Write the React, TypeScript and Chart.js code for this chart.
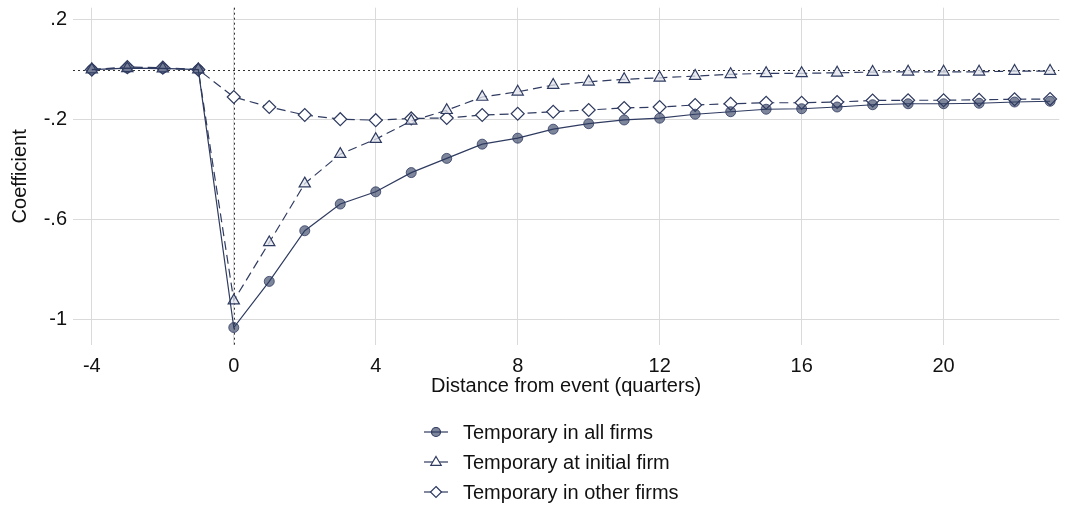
import React, { useEffect, useRef } from "react";
import { Chart, registerables } from "chart.js";

Chart.register(...registerables);

// Event-time axis (quarters relative to the event)
const quarters = [-4, -3, -2, -1, 0, 1, 2, 3, 4, 5, 6, 7, 8, 9, 10, 11, 12, 13, 14, 15, 16, 17, 18, 19, 20, 21, 22, 23];

// Estimated coefficients by series
const allFirms = [0, 0.006, 0.005, 0, -1.034, -0.849, -0.646, -0.539, -0.49, -0.413, -0.356, -0.299, -0.275, -0.239, -0.217, -0.202, -0.195, -0.179, -0.169, -0.159, -0.157, -0.15, -0.141, -0.137, -0.137, -0.135, -0.13, -0.127];
const initialFirm = [0, 0.005, 0.004, 0, -0.926, -0.693, -0.457, -0.339, -0.279, -0.206, -0.163, -0.11, -0.089, -0.062, -0.049, -0.039, -0.033, -0.026, -0.019, -0.015, -0.015, -0.013, -0.01, -0.009, -0.009, -0.009, -0.006, -0.006];
const otherFirms = [0, 0.01, 0.008, 0, -0.11, -0.15, -0.182, -0.199, -0.203, -0.196, -0.194, -0.182, -0.177, -0.169, -0.162, -0.154, -0.15, -0.142, -0.137, -0.133, -0.133, -0.13, -0.124, -0.123, -0.123, -0.121, -0.119, -0.118];

const seriesNames = ["Temporary in all firms", "Temporary at initial firm", "Temporary in other firms"];

const xTickValues = [-4, 0, 4, 8, 12, 16, 20];
const yTickValues = [0.2, -0.2, -0.6, -1];
const yTickLabels = [".2", "-.2", "-.6", "-1"];

const NAVY = "#2f3b60";
const CIRCLE_FILL = "rgba(47,59,96,0.62)";
const TRI_FILL = "rgba(225,228,236,0.75)";
const DIAMOND_FILL = "#ffffff";
const FONT = "'Liberation Sans', Arial, sans-serif";

const toPoints = (ys: number[]) => quarters.map((q, i) => ({ x: q, y: ys[i] }));

// Dotted reference lines at y = 0 and x = 0
const referenceLines = {
  id: "referenceLines",
  beforeDatasetsDraw(chart: any) {
    const { ctx, chartArea, scales } = chart;
    const y0 = Math.round(scales.y.getPixelForValue(0)) + 0.5;
    const x0 = Math.round(scales.x.getPixelForValue(0)) + 0.5;
    ctx.save();
    ctx.strokeStyle = "#333333";
    ctx.lineWidth = 1;
    ctx.setLineDash([2, 3]);
    ctx.beginPath();
    ctx.moveTo(chartArea.left, y0);
    ctx.lineTo(chartArea.right, y0);
    ctx.moveTo(x0, chartArea.top);
    ctx.lineTo(x0, chartArea.bottom);
    ctx.stroke();
    ctx.restore();
  },
};

function drawMarker(ctx: CanvasRenderingContext2D, kind: string, x: number, y: number, r: number, fill: string) {
  ctx.beginPath();
  if (kind === "circle") {
    ctx.arc(x, y, r, 0, Math.PI * 2);
  } else if (kind === "triangle") {
    ctx.moveTo(x, y - r);
    ctx.lineTo(x + r * 0.95, y + r * 0.6);
    ctx.lineTo(x - r * 0.95, y + r * 0.6);
    ctx.closePath();
  } else {
    ctx.moveTo(x, y - r);
    ctx.lineTo(x + r, y);
    ctx.lineTo(x, y + r);
    ctx.lineTo(x - r, y);
    ctx.closePath();
  }
  ctx.fillStyle = fill;
  ctx.fill();
  ctx.stroke();
}

// Stacked legend below the axis title
const stackedLegend = {
  id: "stackedLegend",
  afterDraw(chart: any) {
    const { ctx } = chart;
    const kinds = ["circle", "triangle", "diamond"];
    const fills = [CIRCLE_FILL, "#ffffff", DIAMOND_FILL];
    const rows = [432, 462, 492];
    ctx.save();
    seriesNames.forEach((name, i) => {
      const y = rows[i];
      ctx.strokeStyle = NAVY;
      ctx.lineWidth = 1.2;
      ctx.setLineDash([]);
      ctx.beginPath();
      ctx.moveTo(424, y);
      ctx.lineTo(448, y);
      ctx.stroke();
      drawMarker(ctx, kinds[i], 436, y, i === 0 ? 4.5 : 5.5, fills[i]);
      ctx.fillStyle = "#111111";
      ctx.font = `20px ${FONT}`;
      ctx.textAlign = "left";
      ctx.textBaseline = "middle";
      ctx.fillText(name, 463, y + 1);
    });
    ctx.restore();
  },
};

export default function App() {
  const canvasRef = useRef<HTMLCanvasElement | null>(null);

  useEffect(() => {
    document.body.style.margin = "0";
    const canvas = canvasRef.current;
    if (!canvas) return;
    const chart = new Chart(canvas, {
      type: "line",
      data: {
        datasets: [
          {
            label: seriesNames[0],
            data: toPoints(allFirms),
            borderColor: NAVY,
            borderWidth: 1.2,
            pointStyle: "circle",
            pointRadius: 5,
            pointBackgroundColor: CIRCLE_FILL,
            pointBorderColor: "rgba(47,59,96,0.8)",
            pointBorderWidth: 1,
            tension: 0,
          },
          {
            label: seriesNames[1],
            data: toPoints(initialFirm),
            borderColor: NAVY,
            borderWidth: 1.2,
            borderDash: [9, 5],
            pointStyle: "triangle",
            pointRadius: 6.5,
            pointBackgroundColor: TRI_FILL,
            pointBorderColor: NAVY,
            pointBorderWidth: 1.2,
            tension: 0,
          },
          {
            label: seriesNames[2],
            data: toPoints(otherFirms),
            borderColor: NAVY,
            borderWidth: 1.2,
            borderDash: [9, 5],
            pointStyle: "rectRot",
            pointRadius: 6.5,
            pointBackgroundColor: DIAMOND_FILL,
            pointBorderColor: NAVY,
            pointBorderWidth: 1.2,
            tension: 0,
          },
        ],
      },
      options: {
        animation: false,
        responsive: false,
        events: [],
        layout: { padding: { top: 7, right: 5, bottom: 111, left: 0 } },
        plugins: {
          legend: { display: false },
          tooltip: { enabled: false },
        },
        scales: {
          x: {
            type: "linear",
            min: -4.53,
            max: 23.26,
            border: { display: false },
            grid: { color: "#dadada", lineWidth: 1, drawTicks: false },
            afterBuildTicks: (scale: any) => {
              scale.ticks = xTickValues.map((v) => ({ value: v }));
            },
            afterFit: (scale: any) => {
              scale.height = 55;
              scale.paddingLeft = 0;
              scale.paddingRight = 0;
            },
            ticks: {
              autoSkip: false,
              maxRotation: 0,
              padding: 9,
              color: "#111111",
              font: { family: FONT, size: 20 },
              callback: (v: any) => String(v),
            },
            title: {
              display: true,
              text: "Distance from event (quarters)",
              color: "#111111",
              font: { family: FONT, size: 20 },
              padding: { top: 0, bottom: 2 },
            },
          },
          y: {
            type: "linear",
            min: -1.104,
            max: 0.248,
            border: { display: false },
            grid: { color: "#dadada", lineWidth: 1, drawTicks: false },
            afterBuildTicks: (scale: any) => {
              scale.ticks = yTickValues.map((v) => ({ value: v }));
            },
            afterFit: (scale: any) => {
              scale.width = 73;
              scale.paddingTop = 0;
              scale.paddingBottom = 0;
            },
            ticks: {
              autoSkip: false,
              padding: 6,
              color: "#111111",
              font: { family: FONT, size: 20 },
              callback: (v: any) => {
                const i = yTickValues.findIndex((t) => Math.abs(t - v) < 1e-9);
                return i >= 0 ? yTickLabels[i] : "";
              },
            },
            title: {
              display: true,
              text: "Coefficient",
              color: "#111111",
              font: { family: FONT, size: 20 },
              padding: { top: 8, bottom: 0 },
            },
          },
        },
      },
      plugins: [referenceLines, stackedLegend],
    });
    return () => chart.destroy();
  }, []);

  return (
    <div style={{ position: "absolute", left: 0, top: 0, width: 1067, height: 511, background: "#ffffff" }}>
      <canvas ref={canvasRef} width={1067} height={511} />
    </div>
  );
}
